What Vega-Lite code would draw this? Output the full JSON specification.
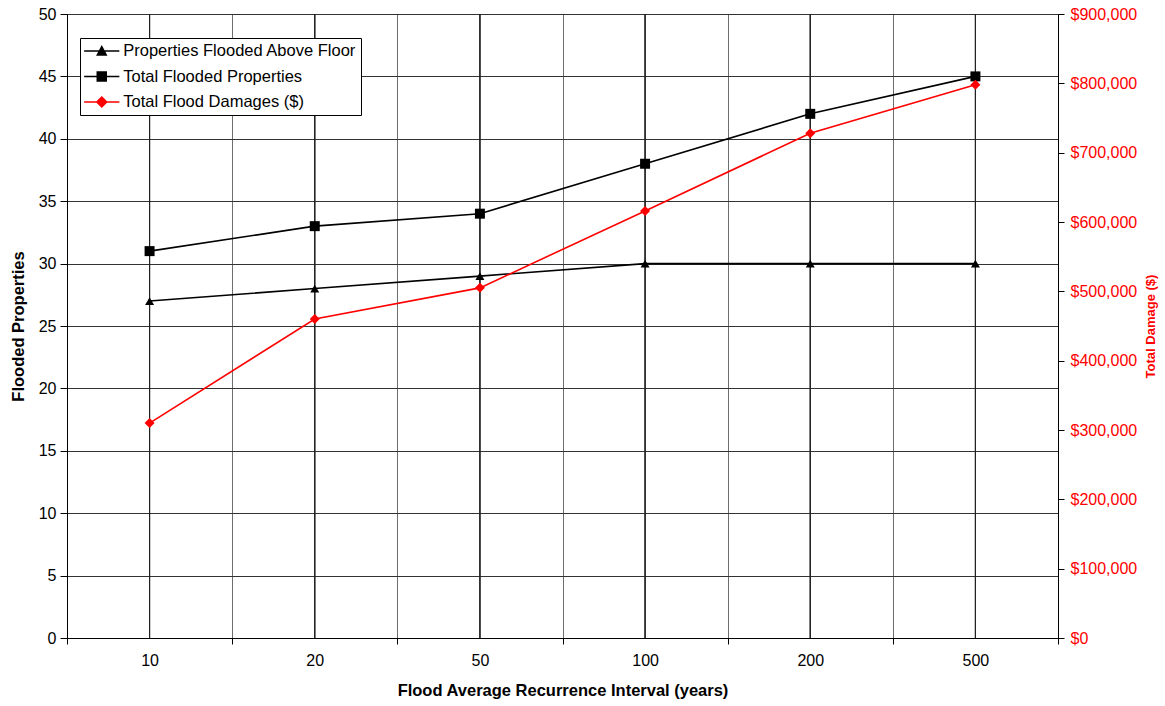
{
  "$schema": "https://vega.github.io/schema/vega-lite/v6.json",
  "width": 991,
  "height": 624,
  "autosize": {"type": "none"},
  "padding": {"left": 67, "top": 14, "right": 107, "bottom": 68},
  "background": "white",
  "config": {
    "font": "Liberation Sans",
    "view": {"stroke": "#000000", "strokeWidth": 1},
    "legend": {
      "title": null,
      "orient": "none",
      "legendX": 13,
      "legendY": 24,
      "strokeColor": "#000000",
      "fillColor": "#ffffff",
      "padding": 4,
      "cornerRadius": 0,
      "labelFont": "Liberation Sans",
      "labelFontSize": 16.5,
      "labelColor": "#000000",
      "labelLimit": 400,
      "labelOffset": 12.5,
      "symbolOffset": 8.75,
      "rowPadding": 7.5,
      "symbolSize": 256,
      "symbolStrokeWidth": 1.5
    }
  },
  "data": {
    "values": [
      {"interval": 10, "series": "Properties Flooded Above Floor", "value": 27},
      {"interval": 20, "series": "Properties Flooded Above Floor", "value": 28},
      {"interval": 50, "series": "Properties Flooded Above Floor", "value": 29},
      {"interval": 100, "series": "Properties Flooded Above Floor", "value": 30},
      {"interval": 200, "series": "Properties Flooded Above Floor", "value": 30},
      {"interval": 500, "series": "Properties Flooded Above Floor", "value": 30},
      {"interval": 10, "series": "Total Flooded Properties", "value": 31},
      {"interval": 20, "series": "Total Flooded Properties", "value": 33},
      {"interval": 50, "series": "Total Flooded Properties", "value": 34},
      {"interval": 100, "series": "Total Flooded Properties", "value": 38},
      {"interval": 200, "series": "Total Flooded Properties", "value": 42},
      {"interval": 500, "series": "Total Flooded Properties", "value": 45},
      {"interval": 10, "series": "Total Flood Damages ($)", "value": 310000},
      {"interval": 20, "series": "Total Flood Damages ($)", "value": 460000},
      {"interval": 50, "series": "Total Flood Damages ($)", "value": 505000},
      {"interval": 100, "series": "Total Flood Damages ($)", "value": 616000},
      {"interval": 200, "series": "Total Flood Damages ($)", "value": 728000},
      {"interval": 500, "series": "Total Flood Damages ($)", "value": 798000}
    ]
  },
  "encoding": {
    "x": {
      "field": "interval",
      "type": "ordinal",
      "scale": {"type": "band", "paddingInner": 0, "paddingOuter": 0},
      "axis": {
        "title": "Flood Average Recurrence Interval (years)",
        "titleFont": "Liberation Sans",
        "titleFontSize": 16.5,
        "titleFontWeight": "bold",
        "titleColor": "#000000",
        "titlePadding": 14,
        "labelAngle": 0,
        "labelFont": "Liberation Sans",
        "labelFontSize": 16,
        "labelColor": "#000000",
        "labelPadding": 8,
        "tickBand": "extent",
        "tickSize": 6,
        "tickColor": "#000000",
        "domainColor": "#000000",
        "grid": true,
        "gridColor": "#6e6e6e",
        "gridWidth": 1
      }
    }
  },
  "layer": [
    {
      "mark": {"type": "rule", "color": "#222222", "strokeWidth": 1},
      "encoding": {}
    },
    {
      "transform": [{"filter": "datum.series != 'Total Flood Damages ($)'"}],
      "encoding": {
        "y": {
          "field": "value",
          "type": "quantitative",
          "scale": {"domain": [0, 50], "nice": false},
          "axis": {
            "orient": "left",
            "title": "Flooded Properties",
            "titleFont": "Liberation Sans",
            "titleFontSize": 16.5,
            "titleFontWeight": "bold",
            "titleColor": "#000000",
            "titlePadding": 12,
            "values": [0, 5, 10, 15, 20, 25, 30, 35, 40, 45, 50],
            "labelFont": "Liberation Sans",
            "labelFontSize": 16,
            "labelColor": "#000000",
            "labelPadding": 4,
            "tickSize": 7,
            "tickColor": "#000000",
            "domainColor": "#000000",
            "grid": true,
            "gridColor": "#333333",
            "gridWidth": 1
          }
        }
      },
      "layer": [
        {
          "mark": {"type": "line", "color": "#000000", "strokeWidth": 1.6},
          "encoding": {"detail": {"field": "series"}}
        },
        {
          "transform": [{"filter": "datum.series == 'Properties Flooded Above Floor'"}],
          "mark": {"type": "point", "filled": true, "color": "#000000", "opacity": 1, "shape": "triangle-up", "size": 80}
        },
        {
          "transform": [{"filter": "datum.series == 'Total Flooded Properties'"}],
          "mark": {"type": "point", "filled": true, "color": "#000000", "opacity": 1, "shape": "square", "size": 100}
        },
        {
          "transform": [{"filter": "datum.value < 0"}],
          "mark": {"type": "point", "filled": true, "opacity": 1},
          "encoding": {
            "shape": {
              "field": "series",
              "type": "nominal",
              "scale": {
                "domain": ["Properties Flooded Above Floor", "Total Flooded Properties", "Total Flood Damages ($)"],
                "range": ["M-2.2,0H2.2M-0.56,0.5L0,-0.55L0.56,0.5Z", "M-2.2,0H2.2M-0.56,-0.56H0.56V0.56H-0.56Z", "M-2.2,0H2.2M0,-0.62L0.62,0L0,0.62L-0.62,0Z"]
              },
              "legend": {"title": null}
            },
            "color": {
              "field": "series",
              "type": "nominal",
              "scale": {
                "domain": ["Properties Flooded Above Floor", "Total Flooded Properties", "Total Flood Damages ($)"],
                "range": ["#000000", "#000000", "#ff0000"]
              },
              "legend": {"title": null}
            },
            "stroke": {
              "field": "series",
              "type": "nominal",
              "scale": {
                "domain": ["Properties Flooded Above Floor", "Total Flooded Properties", "Total Flood Damages ($)"],
                "range": ["#000000", "#000000", "#ff0000"]
              },
              "legend": {"title": null}
            }
          }
        }
      ]
    },
    {
      "transform": [{"filter": "datum.series == 'Total Flood Damages ($)'"}],
      "encoding": {
        "y": {
          "field": "value",
          "type": "quantitative",
          "scale": {"domain": [0, 900000], "nice": false},
          "axis": {
            "orient": "right",
            "title": "Total Damage ($)",
            "titleFont": "Liberation Sans",
            "titleFontSize": 13,
            "titleFontWeight": "bold",
            "titleColor": "#ff0000",
            "titleAngle": 270,
            "titleBaseline": "top",
            "titlePadding": 8,
            "values": [0, 100000, 200000, 300000, 400000, 500000, 600000, 700000, 800000, 900000],
            "format": "$,d",
            "labelFont": "Liberation Sans",
            "labelFontSize": 16,
            "labelColor": "#ff0000",
            "labelPadding": 6,
            "tickSize": 6,
            "tickColor": "#000000",
            "domainColor": "#000000",
            "grid": false
          }
        }
      },
      "layer": [
        {
          "mark": {"type": "line", "color": "#ff0000", "strokeWidth": 1.6}
        },
        {
          "mark": {"type": "point", "filled": true, "color": "#ff0000", "opacity": 1, "size": 100, "shape": "diamond"}
        }
      ]
    }
  ],
  "resolve": {"scale": {"y": "independent"}}
}
